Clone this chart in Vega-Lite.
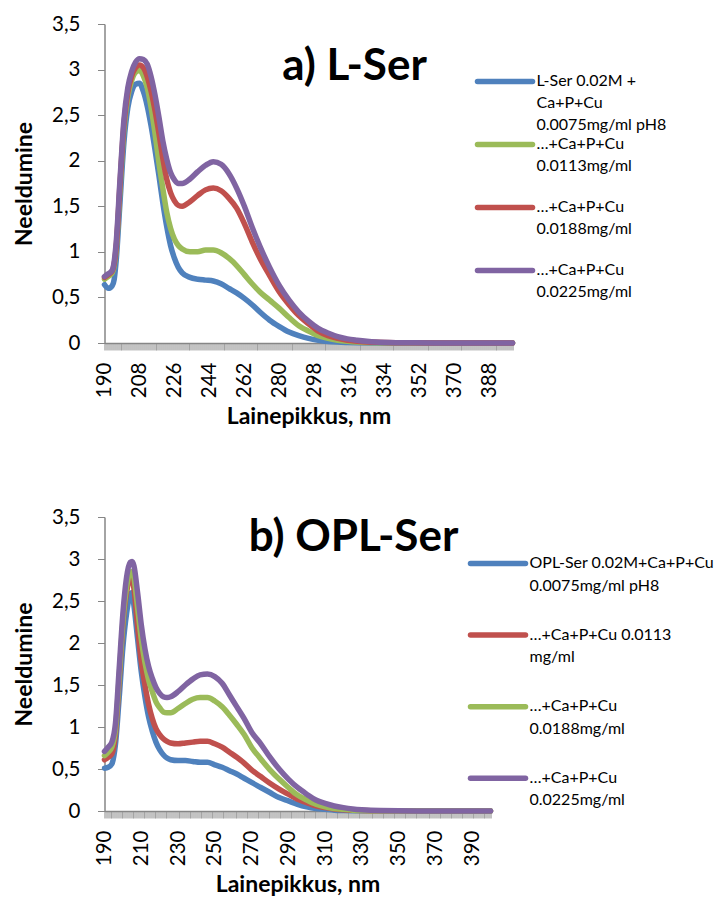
{
  "$schema": "https://vega.github.io/schema/vega-lite/v6.json",
  "background": "white",
  "padding": {"left": 13.5, "top": 14, "right": 0, "bottom": 0},
  "spacing": 78,
  "resolve": {"scale": {"color": "independent", "x": "independent", "y": "independent"}, "legend": {"color": "independent"}},
  "config": {
    "view": {"stroke": null},
    "font": "Lato",
    "axis": {"grid": false, "domainColor": "#868686", "domainWidth": 1.5, "tickColor": "#868686", "tickWidth": 1, "tickSize": 7, "labelFont": "Lato", "labelFontSize": 20.5, "labelColor": "black", "labelFlush": false, "labelOverlap": false, "titleFont": "Lato", "titleFontSize": 23, "titleFontWeight": "bold", "titleColor": "black"},
    "axisX": {"labelAngle": 270, "labelPadding": 12, "titlePadding": 8},
    "axisY": {"labelPadding": 17.5, "titlePadding": 15},
    "legend": {"orient": "none", "title": null, "padding": 0, "symbolType": "stroke", "symbolSize": 3025, "symbolStrokeWidth": 5.5, "labelFont": "Lato", "labelFontSize": 16, "labelColor": "black", "labelLimit": 400, "labelOffset": 1, "labelBaseline": "top", "gridAlign": "all"},
    "title": {"font": "Lato", "fontWeight": "bold", "fontSize": 44, "color": "black", "anchor": "middle", "frame": "group"}
  },
  "datasets": {
    "a": [
      {"s":"L-Ser 0.02M +|Ca+P+Cu|0.0075mg/ml pH8","x":190,"y":0.64},{"s":"L-Ser 0.02M +|Ca+P+Cu|0.0075mg/ml pH8","x":192,"y":0.60},{"s":"L-Ser 0.02M +|Ca+P+Cu|0.0075mg/ml pH8","x":194,"y":0.63},{"s":"L-Ser 0.02M +|Ca+P+Cu|0.0075mg/ml pH8","x":195,"y":0.70},{"s":"L-Ser 0.02M +|Ca+P+Cu|0.0075mg/ml pH8","x":196,"y":0.90},{"s":"L-Ser 0.02M +|Ca+P+Cu|0.0075mg/ml pH8","x":198,"y":1.55},{"s":"L-Ser 0.02M +|Ca+P+Cu|0.0075mg/ml pH8","x":200,"y":2.20},{"s":"L-Ser 0.02M +|Ca+P+Cu|0.0075mg/ml pH8","x":202,"y":2.58},{"s":"L-Ser 0.02M +|Ca+P+Cu|0.0075mg/ml pH8","x":204,"y":2.76},{"s":"L-Ser 0.02M +|Ca+P+Cu|0.0075mg/ml pH8","x":206,"y":2.84},{"s":"L-Ser 0.02M +|Ca+P+Cu|0.0075mg/ml pH8","x":208,"y":2.85},{"s":"L-Ser 0.02M +|Ca+P+Cu|0.0075mg/ml pH8","x":210,"y":2.76},{"s":"L-Ser 0.02M +|Ca+P+Cu|0.0075mg/ml pH8","x":212,"y":2.60},{"s":"L-Ser 0.02M +|Ca+P+Cu|0.0075mg/ml pH8","x":214,"y":2.38},{"s":"L-Ser 0.02M +|Ca+P+Cu|0.0075mg/ml pH8","x":216,"y":2.12},{"s":"L-Ser 0.02M +|Ca+P+Cu|0.0075mg/ml pH8","x":218,"y":1.84},{"s":"L-Ser 0.02M +|Ca+P+Cu|0.0075mg/ml pH8","x":220,"y":1.54},{"s":"L-Ser 0.02M +|Ca+P+Cu|0.0075mg/ml pH8","x":222,"y":1.28},{"s":"L-Ser 0.02M +|Ca+P+Cu|0.0075mg/ml pH8","x":224,"y":1.07},{"s":"L-Ser 0.02M +|Ca+P+Cu|0.0075mg/ml pH8","x":226,"y":0.93},{"s":"L-Ser 0.02M +|Ca+P+Cu|0.0075mg/ml pH8","x":228,"y":0.83},{"s":"L-Ser 0.02M +|Ca+P+Cu|0.0075mg/ml pH8","x":230,"y":0.77},{"s":"L-Ser 0.02M +|Ca+P+Cu|0.0075mg/ml pH8","x":234,"y":0.72},{"s":"L-Ser 0.02M +|Ca+P+Cu|0.0075mg/ml pH8","x":238,"y":0.70},{"s":"L-Ser 0.02M +|Ca+P+Cu|0.0075mg/ml pH8","x":242,"y":0.69},{"s":"L-Ser 0.02M +|Ca+P+Cu|0.0075mg/ml pH8","x":246,"y":0.68},{"s":"L-Ser 0.02M +|Ca+P+Cu|0.0075mg/ml pH8","x":250,"y":0.65},{"s":"L-Ser 0.02M +|Ca+P+Cu|0.0075mg/ml pH8","x":254,"y":0.60},{"s":"L-Ser 0.02M +|Ca+P+Cu|0.0075mg/ml pH8","x":258,"y":0.55},{"s":"L-Ser 0.02M +|Ca+P+Cu|0.0075mg/ml pH8","x":262,"y":0.49},{"s":"L-Ser 0.02M +|Ca+P+Cu|0.0075mg/ml pH8","x":266,"y":0.42},{"s":"L-Ser 0.02M +|Ca+P+Cu|0.0075mg/ml pH8","x":270,"y":0.34},{"s":"L-Ser 0.02M +|Ca+P+Cu|0.0075mg/ml pH8","x":275,"y":0.25},{"s":"L-Ser 0.02M +|Ca+P+Cu|0.0075mg/ml pH8","x":280,"y":0.18},{"s":"L-Ser 0.02M +|Ca+P+Cu|0.0075mg/ml pH8","x":285,"y":0.12},{"s":"L-Ser 0.02M +|Ca+P+Cu|0.0075mg/ml pH8","x":290,"y":0.08},{"s":"L-Ser 0.02M +|Ca+P+Cu|0.0075mg/ml pH8","x":295,"y":0.05},{"s":"L-Ser 0.02M +|Ca+P+Cu|0.0075mg/ml pH8","x":300,"y":0.03},{"s":"L-Ser 0.02M +|Ca+P+Cu|0.0075mg/ml pH8","x":305,"y":0.017},{"s":"L-Ser 0.02M +|Ca+P+Cu|0.0075mg/ml pH8","x":310,"y":0.01},{"s":"L-Ser 0.02M +|Ca+P+Cu|0.0075mg/ml pH8","x":315,"y":0.006},{"s":"L-Ser 0.02M +|Ca+P+Cu|0.0075mg/ml pH8","x":320,"y":0.003},{"s":"L-Ser 0.02M +|Ca+P+Cu|0.0075mg/ml pH8","x":330,"y":0.001},{"s":"L-Ser 0.02M +|Ca+P+Cu|0.0075mg/ml pH8","x":400,"y":0},
      {"s":"…+Ca+P+Cu|0.0113mg/ml","x":190,"y":0.70},{"s":"…+Ca+P+Cu|0.0113mg/ml","x":192,"y":0.73},{"s":"…+Ca+P+Cu|0.0113mg/ml","x":194,"y":0.77},{"s":"…+Ca+P+Cu|0.0113mg/ml","x":196,"y":1.02},{"s":"…+Ca+P+Cu|0.0113mg/ml","x":198,"y":1.70},{"s":"…+Ca+P+Cu|0.0113mg/ml","x":200,"y":2.35},{"s":"…+Ca+P+Cu|0.0113mg/ml","x":202,"y":2.70},{"s":"…+Ca+P+Cu|0.0113mg/ml","x":204,"y":2.88},{"s":"…+Ca+P+Cu|0.0113mg/ml","x":206,"y":2.97},{"s":"…+Ca+P+Cu|0.0113mg/ml","x":208,"y":2.99},{"s":"…+Ca+P+Cu|0.0113mg/ml","x":210,"y":2.93},{"s":"…+Ca+P+Cu|0.0113mg/ml","x":212,"y":2.80},{"s":"…+Ca+P+Cu|0.0113mg/ml","x":214,"y":2.58},{"s":"…+Ca+P+Cu|0.0113mg/ml","x":216,"y":2.30},{"s":"…+Ca+P+Cu|0.0113mg/ml","x":218,"y":1.98},{"s":"…+Ca+P+Cu|0.0113mg/ml","x":220,"y":1.70},{"s":"…+Ca+P+Cu|0.0113mg/ml","x":222,"y":1.44},{"s":"…+Ca+P+Cu|0.0113mg/ml","x":224,"y":1.26},{"s":"…+Ca+P+Cu|0.0113mg/ml","x":226,"y":1.14},{"s":"…+Ca+P+Cu|0.0113mg/ml","x":228,"y":1.07},{"s":"…+Ca+P+Cu|0.0113mg/ml","x":230,"y":1.03},{"s":"…+Ca+P+Cu|0.0113mg/ml","x":234,"y":1.00},{"s":"…+Ca+P+Cu|0.0113mg/ml","x":238,"y":1.00},{"s":"…+Ca+P+Cu|0.0113mg/ml","x":242,"y":1.02},{"s":"…+Ca+P+Cu|0.0113mg/ml","x":246,"y":1.02},{"s":"…+Ca+P+Cu|0.0113mg/ml","x":250,"y":0.99},{"s":"…+Ca+P+Cu|0.0113mg/ml","x":254,"y":0.93},{"s":"…+Ca+P+Cu|0.0113mg/ml","x":258,"y":0.85},{"s":"…+Ca+P+Cu|0.0113mg/ml","x":262,"y":0.75},{"s":"…+Ca+P+Cu|0.0113mg/ml","x":266,"y":0.65},{"s":"…+Ca+P+Cu|0.0113mg/ml","x":270,"y":0.56},{"s":"…+Ca+P+Cu|0.0113mg/ml","x":275,"y":0.47},{"s":"…+Ca+P+Cu|0.0113mg/ml","x":280,"y":0.38},{"s":"…+Ca+P+Cu|0.0113mg/ml","x":285,"y":0.28},{"s":"…+Ca+P+Cu|0.0113mg/ml","x":290,"y":0.19},{"s":"…+Ca+P+Cu|0.0113mg/ml","x":295,"y":0.13},{"s":"…+Ca+P+Cu|0.0113mg/ml","x":300,"y":0.08},{"s":"…+Ca+P+Cu|0.0113mg/ml","x":305,"y":0.05},{"s":"…+Ca+P+Cu|0.0113mg/ml","x":310,"y":0.03},{"s":"…+Ca+P+Cu|0.0113mg/ml","x":315,"y":0.018},{"s":"…+Ca+P+Cu|0.0113mg/ml","x":320,"y":0.01},{"s":"…+Ca+P+Cu|0.0113mg/ml","x":325,"y":0.006},{"s":"…+Ca+P+Cu|0.0113mg/ml","x":330,"y":0.003},{"s":"…+Ca+P+Cu|0.0113mg/ml","x":340,"y":0.001},{"s":"…+Ca+P+Cu|0.0113mg/ml","x":400,"y":0},
      {"s":"…+Ca+P+Cu|0.0188mg/ml","x":190,"y":0.72},{"s":"…+Ca+P+Cu|0.0188mg/ml","x":192,"y":0.75},{"s":"…+Ca+P+Cu|0.0188mg/ml","x":194,"y":0.79},{"s":"…+Ca+P+Cu|0.0188mg/ml","x":196,"y":1.05},{"s":"…+Ca+P+Cu|0.0188mg/ml","x":198,"y":1.75},{"s":"…+Ca+P+Cu|0.0188mg/ml","x":200,"y":2.40},{"s":"…+Ca+P+Cu|0.0188mg/ml","x":202,"y":2.75},{"s":"…+Ca+P+Cu|0.0188mg/ml","x":204,"y":2.93},{"s":"…+Ca+P+Cu|0.0188mg/ml","x":206,"y":3.02},{"s":"…+Ca+P+Cu|0.0188mg/ml","x":208,"y":3.05},{"s":"…+Ca+P+Cu|0.0188mg/ml","x":210,"y":3.02},{"s":"…+Ca+P+Cu|0.0188mg/ml","x":212,"y":2.92},{"s":"…+Ca+P+Cu|0.0188mg/ml","x":214,"y":2.76},{"s":"…+Ca+P+Cu|0.0188mg/ml","x":216,"y":2.55},{"s":"…+Ca+P+Cu|0.0188mg/ml","x":218,"y":2.30},{"s":"…+Ca+P+Cu|0.0188mg/ml","x":220,"y":2.03},{"s":"…+Ca+P+Cu|0.0188mg/ml","x":222,"y":1.80},{"s":"…+Ca+P+Cu|0.0188mg/ml","x":224,"y":1.65},{"s":"…+Ca+P+Cu|0.0188mg/ml","x":226,"y":1.56},{"s":"…+Ca+P+Cu|0.0188mg/ml","x":228,"y":1.51},{"s":"…+Ca+P+Cu|0.0188mg/ml","x":230,"y":1.50},{"s":"…+Ca+P+Cu|0.0188mg/ml","x":234,"y":1.55},{"s":"…+Ca+P+Cu|0.0188mg/ml","x":238,"y":1.62},{"s":"…+Ca+P+Cu|0.0188mg/ml","x":242,"y":1.68},{"s":"…+Ca+P+Cu|0.0188mg/ml","x":246,"y":1.70},{"s":"…+Ca+P+Cu|0.0188mg/ml","x":250,"y":1.67},{"s":"…+Ca+P+Cu|0.0188mg/ml","x":254,"y":1.59},{"s":"…+Ca+P+Cu|0.0188mg/ml","x":258,"y":1.48},{"s":"…+Ca+P+Cu|0.0188mg/ml","x":262,"y":1.31},{"s":"…+Ca+P+Cu|0.0188mg/ml","x":266,"y":1.11},{"s":"…+Ca+P+Cu|0.0188mg/ml","x":270,"y":0.93},{"s":"…+Ca+P+Cu|0.0188mg/ml","x":275,"y":0.74},{"s":"…+Ca+P+Cu|0.0188mg/ml","x":280,"y":0.56},{"s":"…+Ca+P+Cu|0.0188mg/ml","x":285,"y":0.42},{"s":"…+Ca+P+Cu|0.0188mg/ml","x":290,"y":0.30},{"s":"…+Ca+P+Cu|0.0188mg/ml","x":295,"y":0.21},{"s":"…+Ca+P+Cu|0.0188mg/ml","x":300,"y":0.13},{"s":"…+Ca+P+Cu|0.0188mg/ml","x":305,"y":0.08},{"s":"…+Ca+P+Cu|0.0188mg/ml","x":310,"y":0.05},{"s":"…+Ca+P+Cu|0.0188mg/ml","x":315,"y":0.03},{"s":"…+Ca+P+Cu|0.0188mg/ml","x":320,"y":0.02},{"s":"…+Ca+P+Cu|0.0188mg/ml","x":325,"y":0.012},{"s":"…+Ca+P+Cu|0.0188mg/ml","x":330,"y":0.007},{"s":"…+Ca+P+Cu|0.0188mg/ml","x":340,"y":0.003},{"s":"…+Ca+P+Cu|0.0188mg/ml","x":360,"y":0.001},{"s":"…+Ca+P+Cu|0.0188mg/ml","x":400,"y":0},
      {"s":"…+Ca+P+Cu|0.0225mg/ml","x":190,"y":0.73},{"s":"…+Ca+P+Cu|0.0225mg/ml","x":192,"y":0.76},{"s":"…+Ca+P+Cu|0.0225mg/ml","x":194,"y":0.80},{"s":"…+Ca+P+Cu|0.0225mg/ml","x":196,"y":1.10},{"s":"…+Ca+P+Cu|0.0225mg/ml","x":198,"y":1.80},{"s":"…+Ca+P+Cu|0.0225mg/ml","x":200,"y":2.45},{"s":"…+Ca+P+Cu|0.0225mg/ml","x":202,"y":2.80},{"s":"…+Ca+P+Cu|0.0225mg/ml","x":204,"y":2.98},{"s":"…+Ca+P+Cu|0.0225mg/ml","x":206,"y":3.08},{"s":"…+Ca+P+Cu|0.0225mg/ml","x":208,"y":3.12},{"s":"…+Ca+P+Cu|0.0225mg/ml","x":210,"y":3.11},{"s":"…+Ca+P+Cu|0.0225mg/ml","x":212,"y":3.06},{"s":"…+Ca+P+Cu|0.0225mg/ml","x":214,"y":2.92},{"s":"…+Ca+P+Cu|0.0225mg/ml","x":216,"y":2.72},{"s":"…+Ca+P+Cu|0.0225mg/ml","x":218,"y":2.48},{"s":"…+Ca+P+Cu|0.0225mg/ml","x":220,"y":2.22},{"s":"…+Ca+P+Cu|0.0225mg/ml","x":222,"y":2.02},{"s":"…+Ca+P+Cu|0.0225mg/ml","x":224,"y":1.87},{"s":"…+Ca+P+Cu|0.0225mg/ml","x":226,"y":1.79},{"s":"…+Ca+P+Cu|0.0225mg/ml","x":228,"y":1.75},{"s":"…+Ca+P+Cu|0.0225mg/ml","x":230,"y":1.75},{"s":"…+Ca+P+Cu|0.0225mg/ml","x":234,"y":1.80},{"s":"…+Ca+P+Cu|0.0225mg/ml","x":238,"y":1.88},{"s":"…+Ca+P+Cu|0.0225mg/ml","x":242,"y":1.95},{"s":"…+Ca+P+Cu|0.0225mg/ml","x":246,"y":1.99},{"s":"…+Ca+P+Cu|0.0225mg/ml","x":250,"y":1.96},{"s":"…+Ca+P+Cu|0.0225mg/ml","x":254,"y":1.86},{"s":"…+Ca+P+Cu|0.0225mg/ml","x":258,"y":1.70},{"s":"…+Ca+P+Cu|0.0225mg/ml","x":262,"y":1.50},{"s":"…+Ca+P+Cu|0.0225mg/ml","x":266,"y":1.27},{"s":"…+Ca+P+Cu|0.0225mg/ml","x":270,"y":1.06},{"s":"…+Ca+P+Cu|0.0225mg/ml","x":275,"y":0.83},{"s":"…+Ca+P+Cu|0.0225mg/ml","x":280,"y":0.63},{"s":"…+Ca+P+Cu|0.0225mg/ml","x":285,"y":0.47},{"s":"…+Ca+P+Cu|0.0225mg/ml","x":290,"y":0.34},{"s":"…+Ca+P+Cu|0.0225mg/ml","x":295,"y":0.24},{"s":"…+Ca+P+Cu|0.0225mg/ml","x":300,"y":0.16},{"s":"…+Ca+P+Cu|0.0225mg/ml","x":305,"y":0.11},{"s":"…+Ca+P+Cu|0.0225mg/ml","x":310,"y":0.07},{"s":"…+Ca+P+Cu|0.0225mg/ml","x":315,"y":0.045},{"s":"…+Ca+P+Cu|0.0225mg/ml","x":320,"y":0.03},{"s":"…+Ca+P+Cu|0.0225mg/ml","x":325,"y":0.018},{"s":"…+Ca+P+Cu|0.0225mg/ml","x":330,"y":0.01},{"s":"…+Ca+P+Cu|0.0225mg/ml","x":340,"y":0.004},{"s":"…+Ca+P+Cu|0.0225mg/ml","x":360,"y":0.001},{"s":"…+Ca+P+Cu|0.0225mg/ml","x":400,"y":0}
    ],
    "b": [
      {"s":"OPL-Ser 0.02M+Ca+P+Cu|0.0075mg/ml pH8","x":190,"y":0.51},{"s":"OPL-Ser 0.02M+Ca+P+Cu|0.0075mg/ml pH8","x":192,"y":0.52},{"s":"OPL-Ser 0.02M+Ca+P+Cu|0.0075mg/ml pH8","x":194,"y":0.56},{"s":"OPL-Ser 0.02M+Ca+P+Cu|0.0075mg/ml pH8","x":196,"y":0.80},{"s":"OPL-Ser 0.02M+Ca+P+Cu|0.0075mg/ml pH8","x":198,"y":1.35},{"s":"OPL-Ser 0.02M+Ca+P+Cu|0.0075mg/ml pH8","x":200,"y":1.95},{"s":"OPL-Ser 0.02M+Ca+P+Cu|0.0075mg/ml pH8","x":202,"y":2.35},{"s":"OPL-Ser 0.02M+Ca+P+Cu|0.0075mg/ml pH8","x":204,"y":2.58},{"s":"OPL-Ser 0.02M+Ca+P+Cu|0.0075mg/ml pH8","x":205,"y":2.60},{"s":"OPL-Ser 0.02M+Ca+P+Cu|0.0075mg/ml pH8","x":206,"y":2.45},{"s":"OPL-Ser 0.02M+Ca+P+Cu|0.0075mg/ml pH8","x":208,"y":2.05},{"s":"OPL-Ser 0.02M+Ca+P+Cu|0.0075mg/ml pH8","x":210,"y":1.66},{"s":"OPL-Ser 0.02M+Ca+P+Cu|0.0075mg/ml pH8","x":212,"y":1.36},{"s":"OPL-Ser 0.02M+Ca+P+Cu|0.0075mg/ml pH8","x":214,"y":1.12},{"s":"OPL-Ser 0.02M+Ca+P+Cu|0.0075mg/ml pH8","x":216,"y":0.95},{"s":"OPL-Ser 0.02M+Ca+P+Cu|0.0075mg/ml pH8","x":218,"y":0.82},{"s":"OPL-Ser 0.02M+Ca+P+Cu|0.0075mg/ml pH8","x":220,"y":0.73},{"s":"OPL-Ser 0.02M+Ca+P+Cu|0.0075mg/ml pH8","x":222,"y":0.67},{"s":"OPL-Ser 0.02M+Ca+P+Cu|0.0075mg/ml pH8","x":224,"y":0.63},{"s":"OPL-Ser 0.02M+Ca+P+Cu|0.0075mg/ml pH8","x":226,"y":0.61},{"s":"OPL-Ser 0.02M+Ca+P+Cu|0.0075mg/ml pH8","x":230,"y":0.60},{"s":"OPL-Ser 0.02M+Ca+P+Cu|0.0075mg/ml pH8","x":234,"y":0.60},{"s":"OPL-Ser 0.02M+Ca+P+Cu|0.0075mg/ml pH8","x":238,"y":0.59},{"s":"OPL-Ser 0.02M+Ca+P+Cu|0.0075mg/ml pH8","x":242,"y":0.58},{"s":"OPL-Ser 0.02M+Ca+P+Cu|0.0075mg/ml pH8","x":246,"y":0.58},{"s":"OPL-Ser 0.02M+Ca+P+Cu|0.0075mg/ml pH8","x":250,"y":0.55},{"s":"OPL-Ser 0.02M+Ca+P+Cu|0.0075mg/ml pH8","x":254,"y":0.52},{"s":"OPL-Ser 0.02M+Ca+P+Cu|0.0075mg/ml pH8","x":258,"y":0.48},{"s":"OPL-Ser 0.02M+Ca+P+Cu|0.0075mg/ml pH8","x":262,"y":0.44},{"s":"OPL-Ser 0.02M+Ca+P+Cu|0.0075mg/ml pH8","x":266,"y":0.39},{"s":"OPL-Ser 0.02M+Ca+P+Cu|0.0075mg/ml pH8","x":270,"y":0.34},{"s":"OPL-Ser 0.02M+Ca+P+Cu|0.0075mg/ml pH8","x":275,"y":0.28},{"s":"OPL-Ser 0.02M+Ca+P+Cu|0.0075mg/ml pH8","x":280,"y":0.22},{"s":"OPL-Ser 0.02M+Ca+P+Cu|0.0075mg/ml pH8","x":285,"y":0.16},{"s":"OPL-Ser 0.02M+Ca+P+Cu|0.0075mg/ml pH8","x":290,"y":0.12},{"s":"OPL-Ser 0.02M+Ca+P+Cu|0.0075mg/ml pH8","x":295,"y":0.08},{"s":"OPL-Ser 0.02M+Ca+P+Cu|0.0075mg/ml pH8","x":300,"y":0.05},{"s":"OPL-Ser 0.02M+Ca+P+Cu|0.0075mg/ml pH8","x":305,"y":0.03},{"s":"OPL-Ser 0.02M+Ca+P+Cu|0.0075mg/ml pH8","x":310,"y":0.02},{"s":"OPL-Ser 0.02M+Ca+P+Cu|0.0075mg/ml pH8","x":315,"y":0.01},{"s":"OPL-Ser 0.02M+Ca+P+Cu|0.0075mg/ml pH8","x":320,"y":0.006},{"s":"OPL-Ser 0.02M+Ca+P+Cu|0.0075mg/ml pH8","x":330,"y":0.002},{"s":"OPL-Ser 0.02M+Ca+P+Cu|0.0075mg/ml pH8","x":400,"y":0},
      {"s":"…+Ca+P+Cu 0.0113|mg/ml","x":190,"y":0.61},{"s":"…+Ca+P+Cu 0.0113|mg/ml","x":192,"y":0.64},{"s":"…+Ca+P+Cu 0.0113|mg/ml","x":194,"y":0.68},{"s":"…+Ca+P+Cu 0.0113|mg/ml","x":196,"y":0.92},{"s":"…+Ca+P+Cu 0.0113|mg/ml","x":198,"y":1.55},{"s":"…+Ca+P+Cu 0.0113|mg/ml","x":200,"y":2.20},{"s":"…+Ca+P+Cu 0.0113|mg/ml","x":202,"y":2.60},{"s":"…+Ca+P+Cu 0.0113|mg/ml","x":204,"y":2.76},{"s":"…+Ca+P+Cu 0.0113|mg/ml","x":205,"y":2.77},{"s":"…+Ca+P+Cu 0.0113|mg/ml","x":206,"y":2.65},{"s":"…+Ca+P+Cu 0.0113|mg/ml","x":208,"y":2.20},{"s":"…+Ca+P+Cu 0.0113|mg/ml","x":210,"y":1.78},{"s":"…+Ca+P+Cu 0.0113|mg/ml","x":212,"y":1.50},{"s":"…+Ca+P+Cu 0.0113|mg/ml","x":214,"y":1.27},{"s":"…+Ca+P+Cu 0.0113|mg/ml","x":216,"y":1.10},{"s":"…+Ca+P+Cu 0.0113|mg/ml","x":218,"y":0.98},{"s":"…+Ca+P+Cu 0.0113|mg/ml","x":220,"y":0.91},{"s":"…+Ca+P+Cu 0.0113|mg/ml","x":222,"y":0.86},{"s":"…+Ca+P+Cu 0.0113|mg/ml","x":224,"y":0.83},{"s":"…+Ca+P+Cu 0.0113|mg/ml","x":226,"y":0.81},{"s":"…+Ca+P+Cu 0.0113|mg/ml","x":230,"y":0.80},{"s":"…+Ca+P+Cu 0.0113|mg/ml","x":234,"y":0.81},{"s":"…+Ca+P+Cu 0.0113|mg/ml","x":238,"y":0.82},{"s":"…+Ca+P+Cu 0.0113|mg/ml","x":242,"y":0.83},{"s":"…+Ca+P+Cu 0.0113|mg/ml","x":246,"y":0.83},{"s":"…+Ca+P+Cu 0.0113|mg/ml","x":250,"y":0.80},{"s":"…+Ca+P+Cu 0.0113|mg/ml","x":254,"y":0.76},{"s":"…+Ca+P+Cu 0.0113|mg/ml","x":258,"y":0.70},{"s":"…+Ca+P+Cu 0.0113|mg/ml","x":262,"y":0.64},{"s":"…+Ca+P+Cu 0.0113|mg/ml","x":266,"y":0.57},{"s":"…+Ca+P+Cu 0.0113|mg/ml","x":270,"y":0.49},{"s":"…+Ca+P+Cu 0.0113|mg/ml","x":275,"y":0.41},{"s":"…+Ca+P+Cu 0.0113|mg/ml","x":280,"y":0.33},{"s":"…+Ca+P+Cu 0.0113|mg/ml","x":285,"y":0.26},{"s":"…+Ca+P+Cu 0.0113|mg/ml","x":290,"y":0.20},{"s":"…+Ca+P+Cu 0.0113|mg/ml","x":295,"y":0.14},{"s":"…+Ca+P+Cu 0.0113|mg/ml","x":300,"y":0.10},{"s":"…+Ca+P+Cu 0.0113|mg/ml","x":305,"y":0.06},{"s":"…+Ca+P+Cu 0.0113|mg/ml","x":310,"y":0.04},{"s":"…+Ca+P+Cu 0.0113|mg/ml","x":315,"y":0.025},{"s":"…+Ca+P+Cu 0.0113|mg/ml","x":320,"y":0.015},{"s":"…+Ca+P+Cu 0.0113|mg/ml","x":325,"y":0.009},{"s":"…+Ca+P+Cu 0.0113|mg/ml","x":330,"y":0.005},{"s":"…+Ca+P+Cu 0.0113|mg/ml","x":340,"y":0.002},{"s":"…+Ca+P+Cu 0.0113|mg/ml","x":400,"y":0},
      {"s":"…+Ca+P+Cu|0.0188mg/ml","x":190,"y":0.66},{"s":"…+Ca+P+Cu|0.0188mg/ml","x":192,"y":0.70},{"s":"…+Ca+P+Cu|0.0188mg/ml","x":194,"y":0.76},{"s":"…+Ca+P+Cu|0.0188mg/ml","x":196,"y":0.98},{"s":"…+Ca+P+Cu|0.0188mg/ml","x":198,"y":1.60},{"s":"…+Ca+P+Cu|0.0188mg/ml","x":200,"y":2.25},{"s":"…+Ca+P+Cu|0.0188mg/ml","x":202,"y":2.66},{"s":"…+Ca+P+Cu|0.0188mg/ml","x":204,"y":2.84},{"s":"…+Ca+P+Cu|0.0188mg/ml","x":205,"y":2.85},{"s":"…+Ca+P+Cu|0.0188mg/ml","x":206,"y":2.78},{"s":"…+Ca+P+Cu|0.0188mg/ml","x":208,"y":2.42},{"s":"…+Ca+P+Cu|0.0188mg/ml","x":210,"y":2.05},{"s":"…+Ca+P+Cu|0.0188mg/ml","x":212,"y":1.77},{"s":"…+Ca+P+Cu|0.0188mg/ml","x":214,"y":1.56},{"s":"…+Ca+P+Cu|0.0188mg/ml","x":216,"y":1.42},{"s":"…+Ca+P+Cu|0.0188mg/ml","x":218,"y":1.30},{"s":"…+Ca+P+Cu|0.0188mg/ml","x":220,"y":1.23},{"s":"…+Ca+P+Cu|0.0188mg/ml","x":222,"y":1.18},{"s":"…+Ca+P+Cu|0.0188mg/ml","x":224,"y":1.17},{"s":"…+Ca+P+Cu|0.0188mg/ml","x":226,"y":1.17},{"s":"…+Ca+P+Cu|0.0188mg/ml","x":230,"y":1.22},{"s":"…+Ca+P+Cu|0.0188mg/ml","x":234,"y":1.28},{"s":"…+Ca+P+Cu|0.0188mg/ml","x":238,"y":1.33},{"s":"…+Ca+P+Cu|0.0188mg/ml","x":242,"y":1.35},{"s":"…+Ca+P+Cu|0.0188mg/ml","x":246,"y":1.35},{"s":"…+Ca+P+Cu|0.0188mg/ml","x":250,"y":1.31},{"s":"…+Ca+P+Cu|0.0188mg/ml","x":254,"y":1.24},{"s":"…+Ca+P+Cu|0.0188mg/ml","x":258,"y":1.14},{"s":"…+Ca+P+Cu|0.0188mg/ml","x":262,"y":1.03},{"s":"…+Ca+P+Cu|0.0188mg/ml","x":266,"y":0.91},{"s":"…+Ca+P+Cu|0.0188mg/ml","x":270,"y":0.76},{"s":"…+Ca+P+Cu|0.0188mg/ml","x":275,"y":0.62},{"s":"…+Ca+P+Cu|0.0188mg/ml","x":280,"y":0.49},{"s":"…+Ca+P+Cu|0.0188mg/ml","x":285,"y":0.38},{"s":"…+Ca+P+Cu|0.0188mg/ml","x":290,"y":0.28},{"s":"…+Ca+P+Cu|0.0188mg/ml","x":295,"y":0.19},{"s":"…+Ca+P+Cu|0.0188mg/ml","x":300,"y":0.13},{"s":"…+Ca+P+Cu|0.0188mg/ml","x":305,"y":0.08},{"s":"…+Ca+P+Cu|0.0188mg/ml","x":310,"y":0.05},{"s":"…+Ca+P+Cu|0.0188mg/ml","x":315,"y":0.03},{"s":"…+Ca+P+Cu|0.0188mg/ml","x":320,"y":0.02},{"s":"…+Ca+P+Cu|0.0188mg/ml","x":325,"y":0.01},{"s":"…+Ca+P+Cu|0.0188mg/ml","x":330,"y":0.006},{"s":"…+Ca+P+Cu|0.0188mg/ml","x":340,"y":0.002},{"s":"…+Ca+P+Cu|0.0188mg/ml","x":400,"y":0},
      {"s":"…+Ca+P+Cu|0.0225mg/ml","x":190,"y":0.71},{"s":"…+Ca+P+Cu|0.0225mg/ml","x":192,"y":0.76},{"s":"…+Ca+P+Cu|0.0225mg/ml","x":194,"y":0.82},{"s":"…+Ca+P+Cu|0.0225mg/ml","x":196,"y":1.05},{"s":"…+Ca+P+Cu|0.0225mg/ml","x":198,"y":1.70},{"s":"…+Ca+P+Cu|0.0225mg/ml","x":200,"y":2.35},{"s":"…+Ca+P+Cu|0.0225mg/ml","x":202,"y":2.78},{"s":"…+Ca+P+Cu|0.0225mg/ml","x":204,"y":2.96},{"s":"…+Ca+P+Cu|0.0225mg/ml","x":205,"y":2.97},{"s":"…+Ca+P+Cu|0.0225mg/ml","x":206,"y":2.92},{"s":"…+Ca+P+Cu|0.0225mg/ml","x":208,"y":2.60},{"s":"…+Ca+P+Cu|0.0225mg/ml","x":210,"y":2.22},{"s":"…+Ca+P+Cu|0.0225mg/ml","x":212,"y":1.93},{"s":"…+Ca+P+Cu|0.0225mg/ml","x":214,"y":1.72},{"s":"…+Ca+P+Cu|0.0225mg/ml","x":216,"y":1.58},{"s":"…+Ca+P+Cu|0.0225mg/ml","x":218,"y":1.47},{"s":"…+Ca+P+Cu|0.0225mg/ml","x":220,"y":1.40},{"s":"…+Ca+P+Cu|0.0225mg/ml","x":222,"y":1.36},{"s":"…+Ca+P+Cu|0.0225mg/ml","x":224,"y":1.35},{"s":"…+Ca+P+Cu|0.0225mg/ml","x":226,"y":1.36},{"s":"…+Ca+P+Cu|0.0225mg/ml","x":230,"y":1.42},{"s":"…+Ca+P+Cu|0.0225mg/ml","x":234,"y":1.50},{"s":"…+Ca+P+Cu|0.0225mg/ml","x":238,"y":1.57},{"s":"…+Ca+P+Cu|0.0225mg/ml","x":242,"y":1.62},{"s":"…+Ca+P+Cu|0.0225mg/ml","x":246,"y":1.63},{"s":"…+Ca+P+Cu|0.0225mg/ml","x":250,"y":1.60},{"s":"…+Ca+P+Cu|0.0225mg/ml","x":254,"y":1.52},{"s":"…+Ca+P+Cu|0.0225mg/ml","x":258,"y":1.38},{"s":"…+Ca+P+Cu|0.0225mg/ml","x":262,"y":1.24},{"s":"…+Ca+P+Cu|0.0225mg/ml","x":266,"y":1.10},{"s":"…+Ca+P+Cu|0.0225mg/ml","x":270,"y":0.94},{"s":"…+Ca+P+Cu|0.0225mg/ml","x":275,"y":0.80},{"s":"…+Ca+P+Cu|0.0225mg/ml","x":280,"y":0.64},{"s":"…+Ca+P+Cu|0.0225mg/ml","x":285,"y":0.50},{"s":"…+Ca+P+Cu|0.0225mg/ml","x":290,"y":0.38},{"s":"…+Ca+P+Cu|0.0225mg/ml","x":295,"y":0.28},{"s":"…+Ca+P+Cu|0.0225mg/ml","x":300,"y":0.20},{"s":"…+Ca+P+Cu|0.0225mg/ml","x":305,"y":0.13},{"s":"…+Ca+P+Cu|0.0225mg/ml","x":310,"y":0.09},{"s":"…+Ca+P+Cu|0.0225mg/ml","x":315,"y":0.06},{"s":"…+Ca+P+Cu|0.0225mg/ml","x":320,"y":0.04},{"s":"…+Ca+P+Cu|0.0225mg/ml","x":325,"y":0.025},{"s":"…+Ca+P+Cu|0.0225mg/ml","x":330,"y":0.015},{"s":"…+Ca+P+Cu|0.0225mg/ml","x":340,"y":0.005},{"s":"…+Ca+P+Cu|0.0225mg/ml","x":360,"y":0.001},{"s":"…+Ca+P+Cu|0.0225mg/ml","x":400,"y":0}
    ]
  },
  "vconcat": [
    {
      "width": 408,
      "height": 319,
      "title": {"text": "a) L-Ser", "dx": 46, "offset": -75},
      "data": {"name": "a"},
      "mark": {"type": "line", "interpolate": "monotone", "strokeWidth": 5.5, "strokeCap": "round", "strokeJoin": "round"},
      "encoding": {
        "x": {"field": "x", "type": "quantitative", "scale": {"domain": [190, 400], "nice": false, "zero": false},
              "axis": {"title": "Lainepikkus, nm", "tickCount": 210, "labelExpr": "(datum.value - 190) % 18 === 0 ? datum.label : ''"}},
        "y": {"field": "y", "type": "quantitative", "scale": {"domain": [0, 3.5], "nice": false},
              "axis": {"title": "Neeldumine", "values": [0, 0.5, 1, 1.5, 2, 2.5, 3, 3.5], "labelExpr": "replace(format(datum.value, ''), '.', ',')"}},
        "color": {"field": "s", "type": "nominal",
                  "scale": {"domain": ["L-Ser 0.02M +|Ca+P+Cu|0.0075mg/ml pH8", "…+Ca+P+Cu|0.0113mg/ml", "…+Ca+P+Cu|0.0188mg/ml", "…+Ca+P+Cu|0.0225mg/ml"], "range": ["#4F81BD", "#9BBB59", "#C0504D", "#8064A2"]},
                  "legend": {"legendX": 370, "legendY": 49, "rowPadding": 0, "labelExpr": "split(datum.label, '|')", "encode": {"labels": {"update": {"lineHeight": {"value": 22}, "y": {"value": 0}}}, "symbols": {"update": {"y": {"value": 8.5}, "strokeCap": {"value": "round"}}}}}}
      }
    },
    {
      "width": 386,
      "height": 294,
      "title": {"text": "b) OPL-Ser", "dx": 56, "offset": -53},
      "data": {"name": "b"},
      "mark": {"type": "line", "interpolate": "monotone", "strokeWidth": 5.5, "strokeCap": "round", "strokeJoin": "round"},
      "encoding": {
        "x": {"field": "x", "type": "quantitative", "scale": {"domain": [190, 400], "nice": false, "zero": false},
              "axis": {"title": "Lainepikkus, nm", "tickCount": 210, "labelExpr": "(datum.value - 190) % 20 === 0 ? datum.label : ''"}},
        "y": {"field": "y", "type": "quantitative", "scale": {"domain": [0, 3.5], "nice": false},
              "axis": {"title": "Neeldumine", "values": [0, 0.5, 1, 1.5, 2, 2.5, 3, 3.5], "labelExpr": "replace(format(datum.value, ''), '.', ',')"}},
        "color": {"field": "s", "type": "nominal",
                  "scale": {"domain": ["OPL-Ser 0.02M+Ca+P+Cu|0.0075mg/ml pH8", "…+Ca+P+Cu 0.0113|mg/ml", "…+Ca+P+Cu|0.0188mg/ml", "…+Ca+P+Cu|0.0225mg/ml"], "range": ["#4F81BD", "#C0504D", "#9BBB59", "#8064A2"]},
                  "legend": {"legendX": 363, "legendY": 38, "rowPadding": 29.6, "labelExpr": "split(datum.label, '|')", "encode": {"labels": {"update": {"lineHeight": {"value": 22.5}, "y": {"value": 0}}}, "symbols": {"update": {"y": {"value": 8.5}, "strokeCap": {"value": "round"}}}}}}
      }
    }
  ]
}
